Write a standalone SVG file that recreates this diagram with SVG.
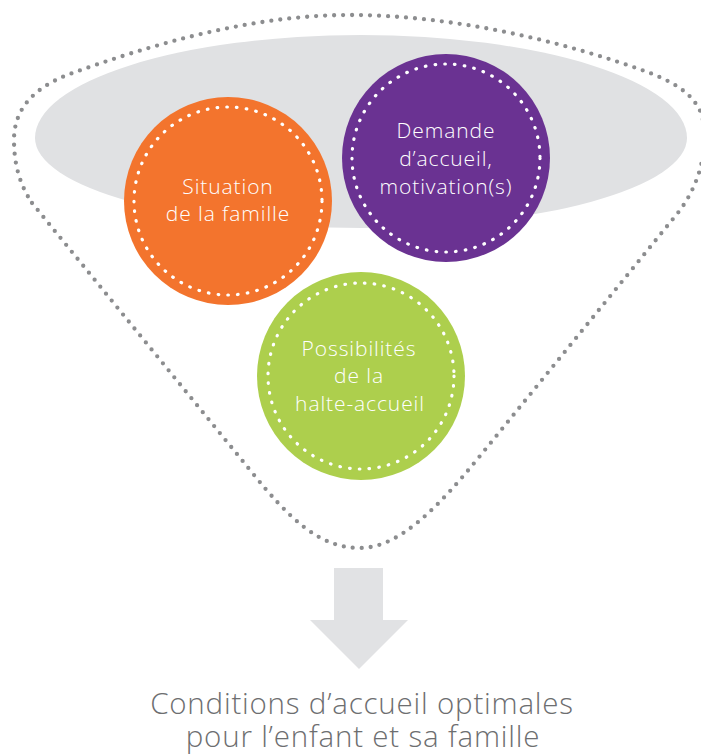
<svg xmlns="http://www.w3.org/2000/svg" width="701" height="755" viewBox="0 0 701 755">
  <style>
    .lbl { font-family: "Open Sans", "Liberation Sans", sans-serif; font-weight: 300; font-size: 21px; letter-spacing: 0.9px; fill: #ffffff; text-anchor: middle; }
    .out { font-family: "Open Sans", "Liberation Sans", sans-serif; font-weight: 300; font-size: 29.5px; letter-spacing: 0.8px; fill: #6d6e70; text-anchor: middle; }
    .ring { fill: none; stroke: #ffffff; stroke-width: 3.2; stroke-linecap: round; stroke-dasharray: 0.6 9.2; }
    .funnel { fill: none; stroke: #8c8d8f; stroke-width: 4.3; stroke-linecap: round; stroke-dasharray: 0 9; }
  </style>

  <rect width="701" height="755" fill="#ffffff"/>

  <!-- grey basin at the mouth of the funnel -->
  <path id="basin" d="M35,138 A326,103 0 0 1 687,138 A326,90 0 0 1 35,138 Z" fill="#e0e1e3"/>

  <!-- dotted funnel outline -->
  <g id="connectors">
    <path class="funnel" d="M32,203 L250,470 C290,520 320,548 360,548 C400,548 440,505 480,456 L677,214 C698,188 710,150 702,115 C694,96 680,85 650,73 C560,40 450,15 350,15 C250,15 150,45 67,75 C35,88 14,108 14,140 C14,165 20,185 32,203"/>
    <!-- downward arrow -->
    <path id="arrow" d="M334,568 H383 V620 H408 L359,669 L310,620 H334 Z" fill="#e1e2e4"/>
  </g>

  <g id="situation">
    <circle cx="228" cy="201" r="104" fill="#f3742d"/>
    <circle class="ring" cx="228" cy="201" r="94"/>
    <text class="lbl" x="228" y="194">Situation</text>
    <text class="lbl" x="228" y="221">de la famille</text>
  </g>

  <g id="demande">
    <circle cx="446" cy="158" r="104" fill="#6a3292"/>
    <circle class="ring" cx="446" cy="158" r="94"/>
    <text class="lbl" x="446" y="138">Demande</text>
    <text class="lbl" x="446" y="166">d’accueil,</text>
    <text class="lbl" x="446" y="194">motivation(s)</text>
  </g>

  <g id="possibilites">
    <circle cx="361" cy="376" r="104" fill="#adcf4d"/>
    <circle class="ring" cx="361" cy="376" r="93"/>
    <text class="lbl" x="359" y="356">Possibilités</text>
    <text class="lbl" x="359" y="383">de la</text>
    <text class="lbl" x="360" y="411">halte-accueil</text>
  </g>

  <g id="resultat">
    <text class="out" x="362" y="714">Conditions d’accueil optimales</text>
    <text class="out" x="363" y="747">pour l’enfant et sa famille</text>
  </g>
</svg>
